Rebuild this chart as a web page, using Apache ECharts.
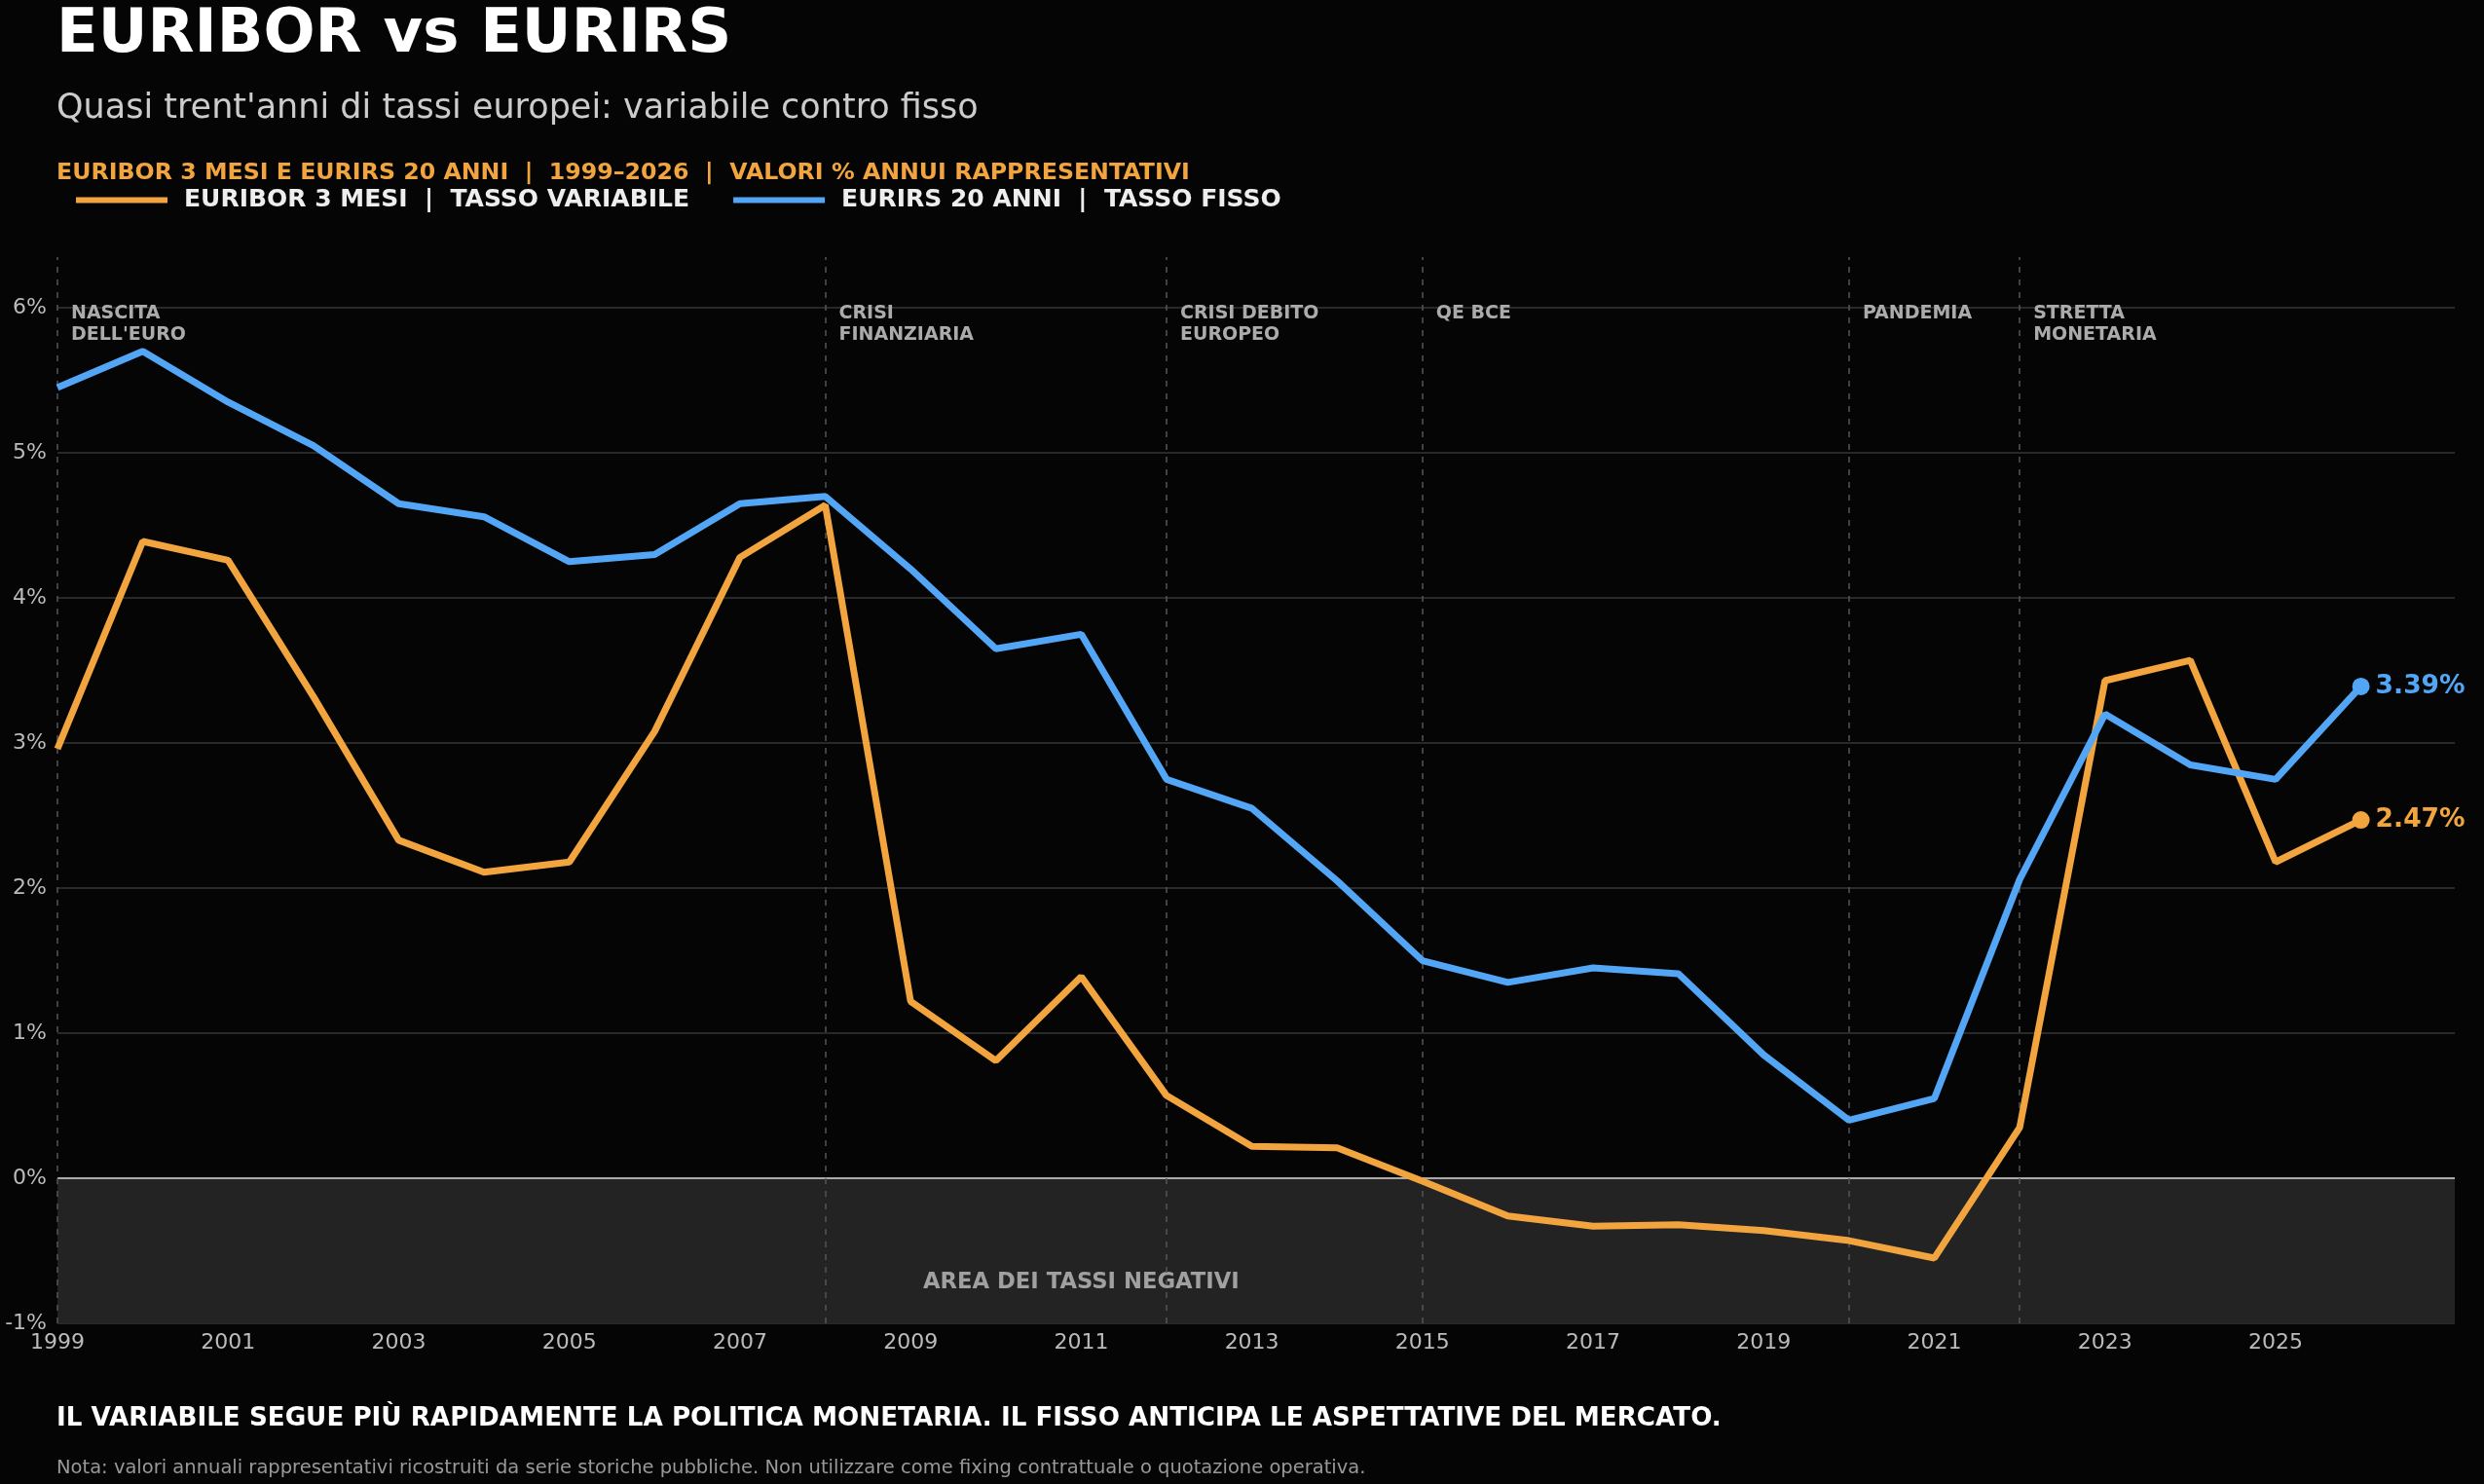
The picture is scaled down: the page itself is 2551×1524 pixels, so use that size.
<!DOCTYPE html>
<html>
<head>
<meta charset="utf-8">
<script src="https://cdn.jsdelivr.net/npm/echarts@6/dist/echarts.min.js"></script>
<style>
html,body{margin:0;padding:0;background:#050505;}
#chart{width:2551px;height:1524px;}
</style>
</head>
<body>
<div id="chart"></div>
<script>
const years = [1999,2000,2001,2002,2003,2004,2005,2006,2007,2008,2009,2010,2011,2012,2013,2014,2015,2016,2017,2018,2019,2020,2021,2022,2023,2024,2025,2026];
const euribor3m = [2.96,4.39,4.26,3.32,2.33,2.11,2.18,3.08,4.28,4.64,1.22,0.81,1.39,0.57,0.22,0.21,-0.02,-0.26,-0.33,-0.32,-0.36,-0.43,-0.55,0.35,3.43,3.57,2.18,2.47];
const eurirs20y = [5.45,5.70,5.35,5.05,4.65,4.56,4.25,4.30,4.65,4.70,4.20,3.65,3.75,2.75,2.55,2.05,1.50,1.35,1.45,1.41,0.85,0.40,0.55,2.06,3.20,2.85,2.75,3.39];
const xTickLabels = [1999,2001,2003,2005,2007,2009,2011,2013,2015,2017,2019,2021,2023,2025];
const yTickValues = [-1,0,1,2,3,4,5,6];
const eventYears = [1999,2008,2012,2015,2020,2022];
const eventLabels = ["NASCITA\nDELL'EURO","CRISI\nFINANZIARIA","CRISI DEBITO\nEUROPEO","QE BCE","PANDEMIA","STRETTA\nMONETARIA"];
const eventLabelLevel = 6.036;
const negativeAreaLabel = {year: 2011, value: -0.72, text: 'AREA DEI TASSI NEGATIVI'};
const seriesNames = ['EURIBOR 3 MESI  |  TASSO VARIABILE', 'EURIRS 20 ANNI  |  TASSO FISSO'];

const ORANGE = '#F2A43E';
const BLUE = '#52A6F5';
const FONT = 'DejaVu Sans';

const chart = echarts.init(document.getElementById('chart'), null, {renderer: 'canvas'});

const pair = (arr) => years.map((y, i) => [y, arr[i]]);
const last = years.length - 1;

const option = {
  backgroundColor: '#050505',
  animation: false,
  textStyle: {fontFamily: FONT},
  title: [
    {text: 'EURIBOR vs EURIRS', left: 58, top: 5.5, padding: 0,
     textStyle: {color: '#ffffff', fontSize: 62.5, lineHeight: 63, fontWeight: 'bold', fontFamily: FONT}},
    {text: "Quasi trent'anni di tassi europei: variabile contro fisso", left: 58, top: 94.5, padding: 0,
     textStyle: {color: '#cccccc', fontSize: 35, lineHeight: 35, fontWeight: 'normal', fontFamily: FONT}},
    {text: 'EURIBOR 3 MESI E EURIRS 20 ANNI  |  1999\u20132026  |  VALORI % ANNUI RAPPRESENTATIVI', left: 58, top: 166, padding: 0,
     textStyle: {color: ORANGE, fontSize: 23.7, lineHeight: 24, fontWeight: 'bold', fontFamily: FONT}},
    {text: 'IL VARIABILE SEGUE PI\u00d9 RAPIDAMENTE LA POLITICA MONETARIA. IL FISSO ANTICIPA LE ASPETTATIVE DEL MERCATO.', left: 58, top: 1444, padding: 0,
     textStyle: {color: '#ffffff', fontSize: 26.2, lineHeight: 26, fontWeight: 'bold', fontFamily: FONT}},
    {text: 'Nota: valori annuali rappresentativi ricostruiti da serie storiche pubbliche. Non utilizzare come fixing contrattuale o quotazione operativa.', left: 58, top: 1498, padding: 0,
     textStyle: {color: '#999999', fontSize: 19.5, lineHeight: 20, fontWeight: 'normal', fontFamily: FONT}}
  ],
  legend: {
    data: seriesNames,
    left: 78, top: 193, padding: 0,
    icon: 'rect', itemWidth: 94, itemHeight: 6, itemGap: 45,
    textStyle: {color: '#eeeeee', fontSize: 25, fontWeight: 'bold', fontFamily: FONT, padding: [0,0,0,12]},
    selectedMode: false
  },
  grid: {left: 59, right: 30, top: 264, bottom: 165, containLabel: false},
  xAxis: {
    type: 'value', min: 1999, max: 2027.1, interval: 2,
    axisLine: {show: false}, axisTick: {show: false, customValues: xTickLabels},
    splitLine: {show: false},
    axisLabel: {customValues: xTickLabels, formatter: v => String(v), color: '#bbbbbb', fontSize: 22, margin: 9, fontFamily: FONT}
  },
  yAxis: {
    type: 'value', min: -1, max: 6.35, interval: 1,
    axisLine: {show: false}, axisTick: {show: false, customValues: yTickValues},
    splitLine: {show: true, lineStyle: {color: '#363636', width: 1.5}},
    axisLabel: {customValues: yTickValues, formatter: v => v + '%', color: '#bbbbbb', fontSize: 22, margin: 11, fontFamily: FONT}
  },
  series: [
    {
      name: 'negative-area', type: 'line', data: [], silent: true,
      markArea: {silent: true, itemStyle: {color: '#232323'}, data: [[{yAxis: -1}, {yAxis: 0}]]},
      markLine: {silent: true, symbol: 'none', label: {show: false},
        data: [{yAxis: 0, lineStyle: {color: '#aaaaaa', width: 2, type: 'solid'}}]
          .concat(eventYears.map(y => ({xAxis: y, lineStyle: {color: '#555555', width: 1.5, type: [6, 7]}})))
      },
      z: 1
    },
    {
      name: seriesNames[0], type: 'line', data: pair(euribor3m), symbol: 'none',
      lineStyle: {color: ORANGE, width: 7}, itemStyle: {color: ORANGE}, z: 5
    },
    {
      name: seriesNames[1], type: 'line', data: pair(eurirs20y), symbol: 'none',
      lineStyle: {color: BLUE, width: 7}, itemStyle: {color: BLUE}, z: 5
    },
    {
      name: 'end-points', type: 'scatter', symbolSize: 18, z: 6, silent: true,
      itemStyle: {opacity: 1},
      data: [
        {value: [years[last], eurirs20y[last]], itemStyle: {color: BLUE, opacity: 1}, label: {color: BLUE}},
        {value: [years[last], euribor3m[last]], itemStyle: {color: ORANGE, opacity: 1}, label: {color: ORANGE}}
      ],
      label: {show: true, position: 'right', distance: 6, fontSize: 26.5, fontWeight: 'bold', fontFamily: FONT,
        formatter: p => p.value[1].toFixed(2) + '%'}
    },
    {
      name: 'event-labels', type: 'scatter', symbolSize: 0, z: 4, silent: true,
      itemStyle: {opacity: 1},
      data: eventYears.map((y, i) => [y, eventLabelLevel, eventLabels[i]]),
      label: {show: true, position: 'right', distance: 14, align: 'left', verticalAlign: 'top',
        color: '#ababab', fontSize: 19, lineHeight: 22, fontWeight: 'bold', fontFamily: FONT,
        formatter: p => p.value[2]}
    },
    {
      name: 'area-label', type: 'scatter', symbolSize: 0, z: 4, silent: true,
      itemStyle: {opacity: 1},
      data: [[negativeAreaLabel.year, negativeAreaLabel.value, negativeAreaLabel.text]],
      label: {show: true, position: 'inside', color: '#a0a0a0', fontSize: 22.7, fontWeight: 'bold', fontFamily: FONT,
        formatter: p => p.value[2]}
    }
  ]
};
chart.setOption(option);
</script>
</body>
</html>
